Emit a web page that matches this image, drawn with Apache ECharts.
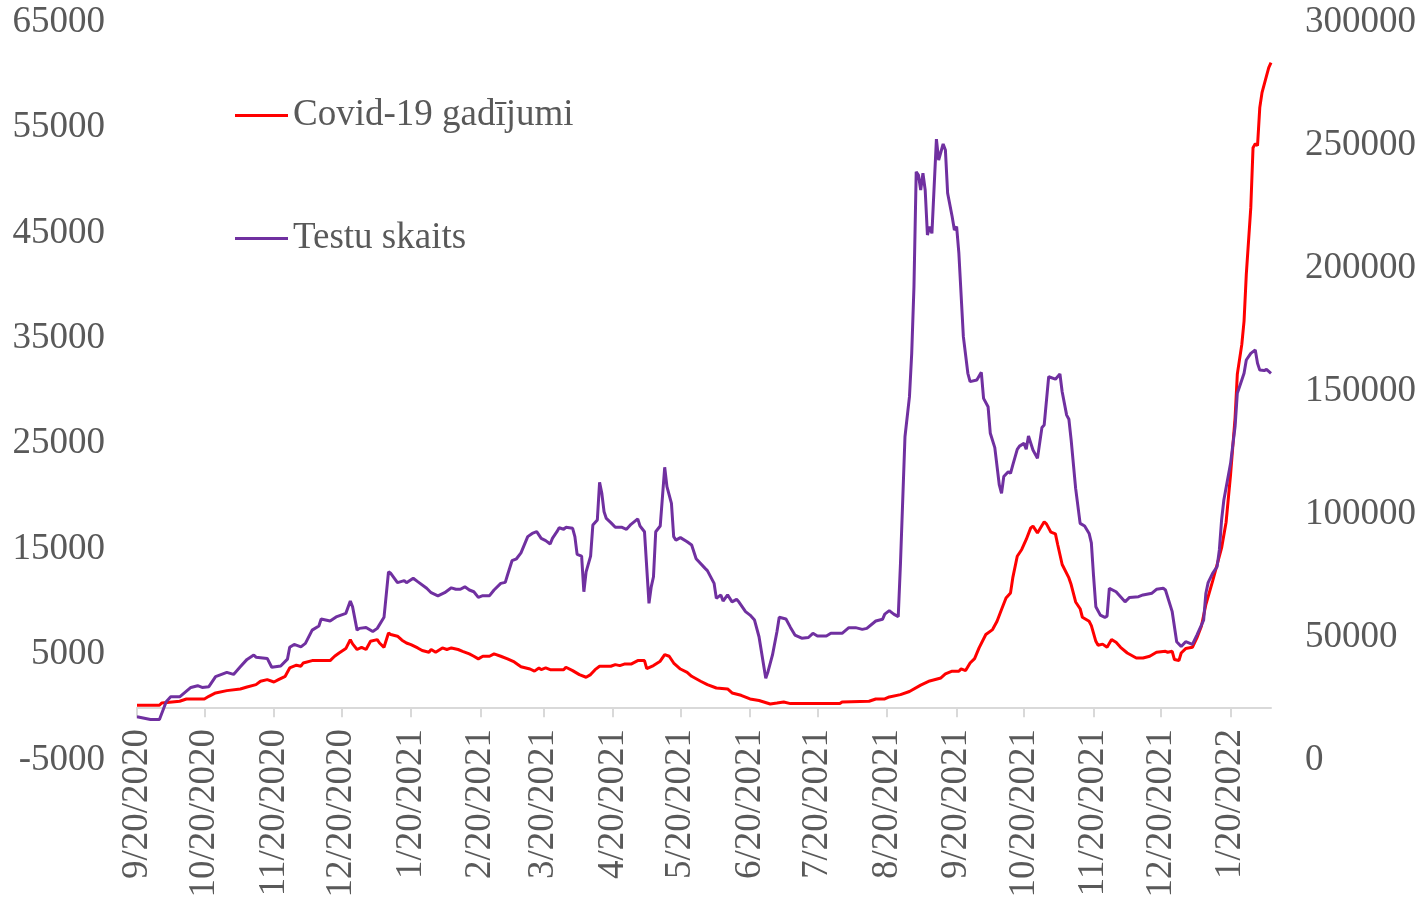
<!DOCTYPE html>
<html lang="lv">
<head>
    <meta charset="UTF-8">
    <title>Covid-19 gadījumi un testu skaits</title>
    <script src="https://cdn.jsdelivr.net/npm/echarts@6.0.0/dist/echarts.min.js"></script>
    <style>
    html, body {
        margin: 0;
        padding: 0;
        background: #fff;
    }
    #chart {
        width: 1423px;
        height: 898px;
    }
    </style>
</head>
<body>
    <div id="chart"></div>
    <script type="text/javascript">
    // first day of the series, x axis runs daily from here
    var startDate = Date.UTC(2020, 8, 20);
    var dayCount = 506;

    // Covid-19 gadijumi (left axis) - day offset / value
    var casesDays = [0, 10, 11, 19, 22, 30, 32, 35, 40, 46, 49, 53, 55, 58, 61, 63, 66, 68, 71, 73, 74, 78,
        86, 88, 90, 93, 95, 96, 98, 100, 102, 104, 107, 108, 110, 112, 113, 116, 118, 120, 122, 125, 127,
        130, 131, 133, 136, 138, 140, 143, 145, 148, 150, 152, 154, 157, 159, 162, 165, 168, 171, 175,
        177, 179, 180, 182, 184, 190, 191, 194, 197, 200, 202, 204, 206, 211, 213, 215, 217, 220, 223,
        226, 227, 230, 233, 235, 237, 239, 242, 245, 247, 251, 254, 258, 263, 265, 269, 273, 277, 282,
        285, 288, 291, 313, 314, 326, 329, 333, 335, 340, 344, 349, 353, 358, 360, 363, 366, 367, 369,
        371, 373, 375, 378, 381, 383, 385, 387, 389, 390, 392, 394, 396, 398, 399, 401, 404, 405, 407,
        409, 410, 412, 415, 416, 418, 420, 421, 424, 425, 427, 428, 430, 432, 434, 436, 438, 441, 445,
        448, 451, 454, 458, 459, 461, 462, 464, 465, 467, 470, 472, 474, 476, 479, 481, 483, 485, 487,
        489, 490, 492, 493, 494, 496, 497, 498, 499, 500, 501, 503, 504, 505];
    var casesValues = [190, 190, 410, 570, 790, 790, 1040, 1360, 1580, 1740, 1930, 2150, 2470, 2620, 2400,
        2620, 2940, 3730, 3990, 3900, 4200, 4430,
        4430, 4840, 5150, 5570, 6420, 6010, 5480, 5690, 5480, 6260, 6420, 6100, 5690, 7050, 6900, 6740,
        6360, 6100, 5950, 5630, 5380,
        5220, 5480, 5220, 5630, 5480, 5630, 5480, 5310, 5060, 4840, 4590, 4840, 4840, 5060, 4840, 4590,
        4300, 3850, 3630,
        3430, 3730, 3570, 3730, 3570, 3570, 3800, 3480, 3100, 2850, 3100, 3570, 3890, 3890, 4050, 3950,
        4100, 4100, 4430,
        4430, 3670, 3960, 4370, 5000, 4840, 4200, 3630, 3320, 2940, 2470, 2150, 1830, 1740, 1360, 1140,
        790, 640, 310,
        400, 500, 350, 350, 500, 570, 790, 790, 980, 1200, 1500, 2100, 2500, 2780, 3160, 3420, 3420,
        3640, 3480,
        4200, 4620, 5630, 6900, 7370, 8160, 9270, 10370, 10850, 12270, 14330, 14970, 15920, 17020, 17180,
        16540, 17590, 17400, 16610,
        16450, 15440, 13540, 12270, 11640, 9990, 9350, 8540, 8160, 7750, 6260, 5880, 5990, 5690, 6420,
        6170, 5690, 5150, 4680,
        4680, 4840, 5220, 5310, 5220, 5310, 4530, 4430, 5150, 5570, 5690, 6580, 7690, 9750, 11960, 13540,
        15120, 17550, 22080,
        27460, 31580, 34420, 36630, 41060, 47390, 53080, 53460, 53270, 56880, 58300, 59890, 60680, 61150];

    // Testu skaits (right axis) - day offset / value
    var testsDays = [0, 6, 10, 13, 15, 19, 24, 27, 29, 32, 35, 40, 43, 46, 49, 52, 53, 58, 60, 64, 67, 68,
        70, 73, 75, 78, 81, 82, 86, 89, 93, 95, 96, 98, 99, 102, 105, 107, 110, 112, 113, 116, 119, 120,
        123, 125, 129, 131, 134, 137, 140, 142, 144, 146, 148, 150, 152, 154, 157, 159, 162, 164, 165,
        167, 169, 171, 174, 176, 178, 180, 182, 184, 185, 187, 188, 190, 191, 194, 195, 196, 198, 199,
        200, 202, 203, 205, 206, 207, 208, 209, 211, 213, 216, 218, 220, 223, 224, 226, 228, 229, 230,
        231, 233, 234, 235, 236, 238, 239, 240, 242, 245, 247, 249, 253, 254, 257, 258, 260, 261, 263,
        265, 267, 268, 271, 273, 275, 277, 280, 281, 283, 285, 286, 289, 291, 293, 296, 299, 301, 303,
        307, 309, 314, 317, 320, 323, 325, 329, 332, 333, 335, 337, 339, 340, 342, 344, 345, 346, 347,
        348, 349, 350, 351, 352, 353, 354, 356, 357, 359, 360, 361, 363, 364, 365, 366, 368, 370, 371,
        374, 376, 377, 379, 380, 382, 384, 385, 386, 388, 389, 390, 392, 393, 395, 396, 397, 399, 401,
        403, 404, 406, 409, 411, 412, 414, 415, 416, 418, 420, 422, 424, 425, 426, 427, 429, 431, 432,
        433, 436, 440, 442, 446, 448, 452, 454, 457, 458, 461, 463, 465, 467, 470, 472, 475, 476, 477,
        479, 481, 482, 483, 484, 487, 489, 490, 492, 493, 494, 496, 498, 499, 500, 502, 503, 505];
    var testsValues = [17600, 16500, 16500, 23700, 25700, 25700, 29500, 30200, 29500, 29800, 33900, 35600,
        34800, 37900, 40900, 42700, 41800, 41300, 37700, 38200, 41000, 45800,
        47000, 46000, 47400, 52800, 54500, 57300, 56500, 58300, 59600, 64600, 62300, 52800, 53500, 53900,
        52200, 53500, 58000, 76500, 75900, 72100, 72900, 72100,
        73900, 72500, 69800, 68000, 66700, 68000, 70000, 69400, 69400, 70400, 69100, 68400, 66100, 66800,
        66800, 69100, 71800, 72200, 75200,
        81000, 81800, 84200, 90800, 92100, 92800, 90100, 89200, 87800, 90100, 92800, 94400, 93800, 94600,
        94200, 90800, 83600, 82900, 68400,
        76500, 82900, 95500, 97600, 112900, 108400, 100900, 98200, 96500, 94600, 94600, 93800, 95800,
        98000, 95100, 92800, 63700, 70400, 74500,
        92800, 95100, 107000, 119000, 111100, 104300, 90800, 89400, 90400, 88700, 87400, 81800, 77900,
        77000, 71800, 65700, 67100, 64600, 67100,
        64300, 65300, 64300, 60300, 58900, 56900, 50100, 33200, 35900, 42700, 52200, 58000, 57300, 53900,
        50800, 49500, 49800, 51500, 50400,
        50400, 51500, 51500, 53800, 53800, 53100, 53500, 56500, 57200, 59300, 60700, 59300, 58300, 80000,
        131400, 147700, 165300, 192400, 239100,
        237800, 231700, 238500, 231700, 213400, 216800, 214100, 252400, 243900, 250400, 248000, 230400,
        220900, 215400, 216800, 206000, 172100, 157200, 153800,
        154500, 157600, 147000, 143600, 132800, 127000, 111800, 108400, 115200, 117200, 116500, 119900,
        126300, 127600, 128700, 126300, 131700, 126000, 122600,
        135200, 136200, 155800, 154800, 156900, 149700, 140200, 138500, 130100, 110400, 96200, 95100,
        92100, 88300, 74500, 62300, 58900, 58000, 58500,
        69800, 68400, 64300, 66100, 66400, 67100, 67800, 69400, 69800, 69100, 60300, 48100, 46100, 48100,
        47000, 50800, 56900, 67800, 72100,
        75900, 78600, 85400, 97600, 105700, 120600, 135500, 149100, 154500, 157200, 162600, 165300,
        166700, 161300, 158500, 158300, 158800, 157200];

    var textColor = '#595959';
    var fontName = '"Liberation Serif", "Times New Roman", serif';

    // daily categories, M/D/YYYY like the excel source
    var dates = [];
    var dayOfMonth = [];
    for (var i = 0; i < dayCount; i++) {
        var d = new Date(startDate + i * 86400000);
        dates.push((d.getUTCMonth() + 1) + '/' + d.getUTCDate() + '/' + d.getUTCFullYear());
        dayOfMonth.push(d.getUTCDate());
    }

    var pairs = function(days, values) {
        return days.map(function(day, k) {
            return [day, values[k]];
        });
    };

    var onTwentieth = function(index) {
        return dayOfMonth[index] === 20;
    };

    // no thousands separator on the value axes
    var plainNumber = function(value) {
        return String(value);
    };

    var chart = echarts.init(document.getElementById('chart'));
    var option = {
        animation: false,
        backgroundColor: '#fff',
        grid: {
            left: 137,
            right: 152,
            top: 22,
            bottom: 138,
            outerBoundsMode: 'none'
        },
        legend: {
            orient: 'vertical',
            left: 230,
            top: 92,
            itemGap: 86,
            itemWidth: 53,
            itemHeight: 3,
            icon: 'rect',
            data: ['Covid-19 gadījumi', 'Testu skaits'],
            textStyle: {
                color: textColor,
                fontFamily: fontName,
                fontSize: 37
            }
        },
        xAxis: {
            type: 'category',
            data: dates,
            boundaryGap: false,
            axisLine: {
                onZero: true,
                onZeroAxisIndex: 0,
                lineStyle: { color: '#d9d9d9', width: 2 }
            },
            axisTick: {
                interval: onTwentieth,
                length: 10,
                lineStyle: { color: '#d9d9d9', width: 2 }
            },
            axisLabel: {
                interval: onTwentieth,
                rotate: 90,
                // labels sit just under the zero line, not under the grid edge
                margin: -31,
                color: textColor,
                fontFamily: fontName,
                fontSize: 37
            },
            splitLine: { show: false }
        },
        yAxis: [{
            type: 'value',
            min: -5000,
            max: 65000,
            interval: 10000,
            axisLine: { show: false },
            axisTick: { show: false },
            splitLine: { show: false },
            axisLabel: {
                margin: 32,
                color: textColor,
                fontFamily: fontName,
                fontSize: 37,
                formatter: plainNumber
            }
        }, {
            type: 'value',
            min: 0,
            max: 300000,
            interval: 50000,
            axisLine: { show: false },
            axisTick: { show: false },
            splitLine: { show: false },
            axisLabel: {
                margin: 34,
                color: textColor,
                fontFamily: fontName,
                fontSize: 37,
                formatter: plainNumber
            }
        }],
        series: [{
            name: 'Covid-19 gadījumi',
            type: 'line',
            yAxisIndex: 0,
            showSymbol: false,
            color: '#ff0000',
            lineStyle: { color: '#ff0000', width: 3 },
            z: 2,
            data: pairs(casesDays, casesValues)
        }, {
            name: 'Testu skaits',
            type: 'line',
            yAxisIndex: 1,
            showSymbol: false,
            color: '#7030a0',
            lineStyle: { color: '#7030a0', width: 3 },
            z: 3,
            data: pairs(testsDays, testsValues)
        }]
    };
    chart.setOption(option);
    </script>
</body>
</html>
